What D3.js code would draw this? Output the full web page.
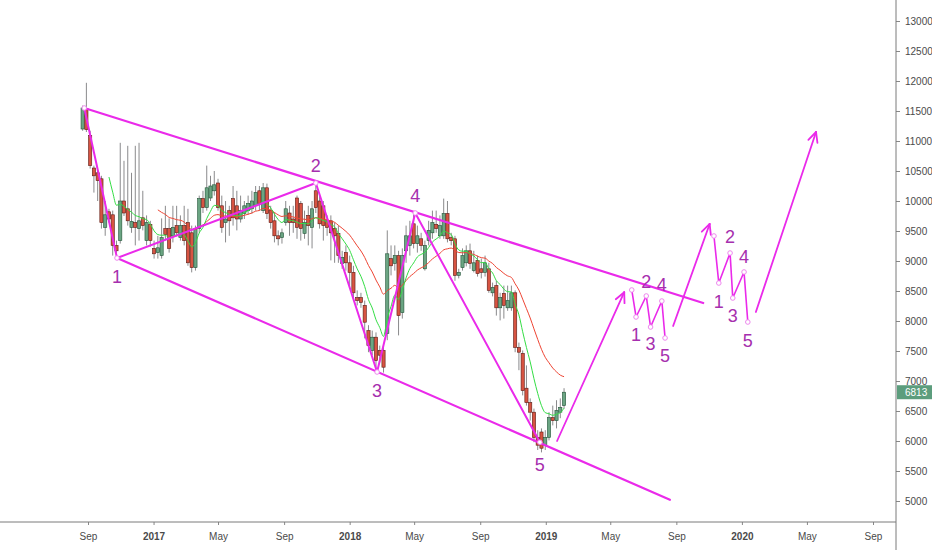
<!DOCTYPE html>
<html>
<head>
<meta charset="utf-8">
<script src="https://cdn.jsdelivr.net/npm/d3@7"></script>
<style>
  body { margin: 0; background: #fff; }
  svg { display: block; }
  text { font-family: "Liberation Sans", Arial, sans-serif; }
</style>
</head>
<body>
<svg id="chart" width="932" height="550"></svg>
<script>
// weekly candles, first week starts 2016-08-22
const firstWeek = new Date(2016, 7, 22);

const opens = [
  11200, 11540, 11090, 10550, 10470, 10370, 9560, 9820, 9770, 9260,
  9340, 10000, 9870, 9560, 9640, 9540, 9720, 9340, 9610, 9210,
  9140, 9090, 9540, 9540, 9420, 9590, 9390, 9590, 9640, 9470,
  8890, 9540, 10040, 9890, 10050, 10170, 10300, 9920, 9640, 9840,
  10040, 9920, 9700, 9790, 9840, 9870, 9920, 10170, 9840, 10220,
  9840, 9670, 9420, 9390, 9640, 9800, 9700, 10050, 9960, 9460,
  9760, 9560, 10170, 10000, 9920, 9670, 9670, 9540, 9460, 8960,
  9140, 8970, 8810, 8390, 8390, 8260, 7840, 7510, 7730, 7510,
  7510, 7790, 9040, 8960, 9090, 8140, 9170, 9260, 9620, 9290,
  9370, 8870, 9340, 9470, 9610, 9420, 9420, 9790, 9390, 9370,
  8760, 8890, 8970, 9170, 8840, 9010, 8870, 8810, 8870, 8470,
  8590, 8220, 8460, 8220, 8220, 8470, 7560, 7460, 6880, 6640,
  6480, 6060, 6150, 5930, 6060, 6390, 6340, 6480, 6590
];
const highs = [
  11590, 11970, 11170, 10590, 10500, 10420, 10000, 9870, 9840, 9340,
  10970, 10670, 10920, 10470, 10920, 10970, 10170, 9760, 9670, 9340,
  9420, 9710, 9920, 9710, 9920, 9920, 9760, 9920, 9870, 9590,
  9590, 10090, 10170, 10590, 10420, 10500, 10370, 10090, 10000, 9920,
  10250, 10170, 10090, 10000, 10090, 10170, 10250, 10250, 10300, 10290,
  9920, 9810, 9510, 9540, 10000, 9920, 9920, 10090, 10000, 9840,
  9920, 10000, 10290, 10090, 10000, 9760, 9760, 9640, 9590, 9170,
  9260, 9090, 8920, 8510, 8470, 8340, 7930, 7840, 7810, 7590,
  7590, 9510, 9260, 9260, 9170, 9210, 9590, 9670, 9810, 9590,
  9470, 9340, 9670, 9840, 9840, 9760, 10040, 10000, 9470, 9420,
  8870, 9210, 9260, 9290, 9170, 9090, 9040, 9090, 8970, 8640,
  8670, 8470, 8590, 8590, 8590, 8510, 7640, 7510, 7260, 6710,
  6540, 6180, 6210, 6180, 6480, 6590, 6680, 6710, 6880
];
const lows = [
  11170, 11150, 10540, 10140, 10000, 9540, 9420, 9640, 9090, 9040,
  9290, 9750, 9590, 9470, 9260, 9340, 9510, 9260, 9240, 9040,
  9040, 9040, 9340, 9140, 9310, 9410, 9340, 9260, 8920, 8810,
  8840, 9470, 9800, 9840, 10000, 10090, 9840, 9470, 9310, 9420,
  9590, 9510, 9640, 9700, 9770, 9790, 9840, 9840, 9800, 9700,
  9540, 9310, 9260, 9290, 9590, 9420, 9470, 9370, 9340, 9370,
  9260, 9210, 9800, 9540, 9340, 9420, 9010, 8970, 8970, 8870,
  8840, 8590, 8340, 8260, 8220, 7710, 7480, 7430, 7140, 7310,
  7140, 7680, 8760, 8840, 7760, 8040, 8970, 9090, 9210, 9140,
  9170, 8840, 9260, 9370, 9470, 9370, 9370, 9310, 9260, 8670,
  8710, 8840, 8910, 8870, 8810, 8740, 8710, 8740, 8470, 8410,
  8090, 8010, 8040, 8170, 8170, 7480, 7180, 6760, 6590, 6340,
  5980, 5850, 5810, 5850, 6010, 6260, 6210, 6380, 6540
];
const closes = [
  11550, 11190, 10590, 10420, 10340, 9640, 9770, 9700, 9260, 9170,
  10000, 9800, 9670, 9660, 9560, 9670, 9590, 9640, 9340, 9120,
  9220, 9390, 9440, 9210, 9560, 9470, 9590, 9340, 8970, 8890,
  9540, 10040, 9890, 10220, 10250, 10270, 9890, 9560, 9700, 9670,
  9720, 9700, 9840, 9920, 9960, 10000, 10140, 9960, 10220, 9790,
  9640, 9420, 9370, 9470, 9870, 9640, 9640, 9560, 9540, 9640,
  9590, 9870, 9890, 9620, 9590, 9560, 9470, 9420, 9090, 9060,
  8970, 8810, 8470, 8340, 8310, 7980, 7590, 7730, 7340, 7430,
  7230, 9120, 8920, 9090, 8090, 9090, 9420, 9420, 9290, 9420,
  9260, 9260, 9510, 9640, 9540, 9590, 9790, 9370, 9340, 8760,
  8810, 9090, 9170, 8960, 8970, 8790, 8810, 8970, 8510, 8560,
  8220, 8390, 8260, 8340, 8470, 7560, 7480, 6840, 6640, 6480,
  6060, 5930, 5880, 6060, 6390, 6340, 6510, 6560, 6813
];
const lastPrice = 6813;

// axis ticks
const yTicks = [5000, 5500, 6000, 6500, 7000, 7500, 8000, 8500, 9000, 9500,
                10000, 10500, 11000, 11500, 12000, 12500, 13000];
const xTickDates = [
  new Date(2016, 8, 1), new Date(2017, 0, 1), new Date(2017, 4, 1), new Date(2017, 8, 1),
  new Date(2018, 0, 1), new Date(2018, 4, 1), new Date(2018, 8, 1), new Date(2019, 0, 1),
  new Date(2019, 4, 1), new Date(2019, 8, 1), new Date(2020, 0, 1), new Date(2020, 4, 1),
  new Date(2020, 8, 1)
];

// elliott wave drawing
const waveDates = [new Date(2016, 7, 25), new Date(2016, 9, 25), new Date(2017, 9, 30),
                   new Date(2018, 1, 21), new Date(2018, 4, 3), new Date(2018, 11, 21)];
const waveValues = [11550, 9050, 10300, 7150, 9800, 5980];
const waveLabels = ["", "1", "2", "3", "4", "5"];

const upperChannelEnd = [new Date(2019, 9, 21), 8300];
const lowerChannelEnd = [new Date(2019, 7, 20), 5020];

const arrow1 = [[new Date(2019, 0, 22), 6000], [new Date(2019, 4, 27), 8480]];
const subWaveADates = [new Date(2019, 5, 10), new Date(2019, 5, 18), new Date(2019, 6, 7),
                       new Date(2019, 6, 15), new Date(2019, 7, 5), new Date(2019, 7, 11)];
const subWaveAValues = [8517, 8067, 8417, 7900, 8333, 7717];
const arrow2 = [[new Date(2019, 7, 26), 7917], [new Date(2019, 10, 2), 9617]];
const subWaveBDates = [new Date(2019, 10, 10), new Date(2019, 10, 19), new Date(2019, 11, 10),
                       new Date(2019, 11, 15), new Date(2020, 0, 5), new Date(2020, 0, 12)];
const subWaveBValues = [9417, 8633, 9133, 8383, 8817, 7983];
const arrow3 = [[new Date(2020, 0, 27), 8150], [new Date(2020, 4, 18), 11150]];

const svg = d3.select("#chart");
const width = +svg.attr("width");
const height = +svg.attr("height");
const plotRight = 896, plotBottom = 522;

const x = d3.scaleTime()
  .domain([new Date(2016, 8, 1), new Date(2020, 8, 1)])
  .range([88, 873]);
const y = d3.scaleLinear()
  .domain([5000, 13000])
  .range([501, 21]);

const candles = closes.map((c, i) => ({
  date: d3.timeDay.offset(firstWeek, 7 * i),
  o: opens[i], h: highs[i], l: lows[i], c: c
}));

function ema(vals, n) {
  const k = 2 / (n + 1);
  let prev = null;
  return vals.map((v, i) => {
    if (i < n - 1) return null;
    if (i === n - 1) prev = d3.mean(vals.slice(0, n));
    else prev = v * k + prev * (1 - k);
    return prev;
  });
}
const emaFast = ema(closes, 8);
const emaSlow = ema(closes, 21);

svg.append("defs").append("clipPath").attr("id", "plotClip")
  .append("rect").attr("x", 0).attr("y", 0).attr("width", plotRight).attr("height", plotBottom);

const plot = svg.append("g").attr("clip-path", "url(#plotClip)");

// candles
const cg = plot.append("g");
cg.selectAll("line.wick")
  .data(candles)
  .enter()
  .append("line")
  .attr("class", "wick")
  .attr("x1", d => x(d.date)).attr("x2", d => x(d.date))
  .attr("y1", d => y(d.h)).attr("y2", d => y(d.l))
  .attr("stroke", "#8a8a8c")
  .attr("stroke-width", 1);

cg.selectAll("rect")
  .data(candles)
  .enter()
  .append("rect")
  .attr("x", d => x(d.date) - 1.6)
  .attr("width", 3.2)
  .attr("y", d => y(Math.max(d.o, d.c)))
  .attr("height", d => Math.max(1, Math.abs(y(d.o) - y(d.c))))
  .attr("fill", d => d.c >= d.o ? "#6ba583" : "#d75442")
  .attr("stroke", d => d.c >= d.o ? "#225437" : "#5b1a13")
  .attr("stroke-width", 0.6);

// moving averages
const maLine = d3.line()
  .defined(d => d.v != null)
  .x(d => x(d.date))
  .y(d => y(d.v))
  .curve(d3.curveMonotoneX);

plot.append("path")
  .attr("d", maLine(candles.map((d, i) => ({ date: d.date, v: emaSlow[i] }))))
  .attr("fill", "none").attr("stroke", "#ee4433").attr("stroke-width", 1);
plot.append("path")
  .attr("d", maLine(candles.map((d, i) => ({ date: d.date, v: emaFast[i] }))))
  .attr("fill", "none").attr("stroke", "#33dd44").attr("stroke-width", 1);

// wave drawing
const magenta = "#ea2aea";
const labelColor = "#a62fae";
const ann = plot.append("g");
const pt = (d, v) => [x(d), y(v)];

function segment(a, b, w) {
  ann.append("line")
    .attr("x1", a[0]).attr("y1", a[1]).attr("x2", b[0]).attr("y2", b[1])
    .attr("stroke", magenta).attr("stroke-width", w).attr("stroke-linecap", "round");
}
function arrow(a, b) {
  const p0 = pt(a[0], a[1]), p1 = pt(b[0], b[1]);
  segment(p0, p1, 1.8);
  const ang = Math.atan2(p0[1] - p1[1], p0[0] - p1[0]);
  [-0.45, 0.45].forEach(da => {
    segment(p1, [p1[0] + 11 * Math.cos(ang + da), p1[1] + 11 * Math.sin(ang + da)], 1.8);
  });
}
function zigzag(dates, values, labels, w, offsets) {
  const pts = dates.map((d, i) => pt(d, values[i]));
  ann.append("path")
    .attr("d", d3.line()(pts))
    .attr("fill", "none").attr("stroke", magenta).attr("stroke-width", w)
    .attr("stroke-linejoin", "round");
  ann.selectAll(null).data(pts).enter().append("circle")
    .attr("cx", p => p[0]).attr("cy", p => p[1]).attr("r", 2.3)
    .attr("fill", "#fff").attr("stroke", "#ee88ee").attr("stroke-width", 1);
  ann.selectAll(null).data(pts).enter().append("text")
    .attr("x", p => p[0]).attr("y", (p, i) => p[1] + offsets[i])
    .attr("text-anchor", "middle").attr("dominant-baseline", "central")
    .attr("fill", labelColor).attr("font-size", 18)
    .text((p, i) => labels[i]);
}

// channel lines
segment(pt(waveDates[0], waveValues[0]), pt(upperChannelEnd[0], upperChannelEnd[1]), 2.2);
segment(pt(waveDates[1], waveValues[1]), pt(lowerChannelEnd[0], lowerChannelEnd[1]), 2.2);

zigzag(waveDates, waveValues, waveLabels, 2, [0, 19, -17, 19, -17, 23]);

arrow(arrow1[0], arrow1[1]);
zigzag(subWaveADates, subWaveAValues, waveLabels, 1.6, [0, 18, -14, 17, -16, 18]);
arrow(arrow2[0], arrow2[1]);
zigzag(subWaveBDates, subWaveBValues, waveLabels, 1.6, [0, 19, -16, 18, -15, 19]);
arrow(arrow3[0], arrow3[1]);

// right price axis
const yAxis = svg.append("g")
  .attr("transform", `translate(${plotRight},0)`)
  .call(d3.axisRight(y).tickValues(yTicks).tickSize(4).tickPadding(5).tickFormat(d3.format("d")));
yAxis.select(".domain").remove();
yAxis.selectAll("line").attr("stroke", "#888");
yAxis.selectAll("text").attr("fill", "#4a4a4a").attr("font-size", 10)
  .attr("font-family", "'Liberation Sans Narrow', 'Liberation Sans', Arial, sans-serif");

// bottom time axis
const fmtTick = d => d.getMonth() === 0 ? d3.timeFormat("%Y")(d) : d3.timeFormat("%b")(d);
const xAxis = svg.append("g")
  .attr("transform", `translate(0,${plotBottom})`)
  .call(d3.axisBottom(x).tickValues(xTickDates).tickSize(3).tickPadding(8).tickFormat(fmtTick));
xAxis.select(".domain").remove();
xAxis.selectAll("line").attr("stroke", "#888");
xAxis.selectAll("text").attr("fill", "#4a4a4a").attr("font-size", 10)
  .attr("font-family", "'Liberation Sans Narrow', 'Liberation Sans', Arial, sans-serif")
  .attr("font-weight", d => d.getMonth() === 0 ? "bold" : "normal");

// axis borders
svg.append("line").attr("x1", 0).attr("x2", plotRight).attr("y1", plotBottom).attr("y2", plotBottom)
  .attr("stroke", "#7a7a7a").attr("stroke-width", 1);
svg.append("line").attr("x1", plotRight).attr("x2", plotRight).attr("y1", 0).attr("y2", height)
  .attr("stroke", "#7a7a7a").attr("stroke-width", 1);

// last price tag
const tag = svg.append("g").attr("transform", `translate(${plotRight + 1},${y(lastPrice)})`);
tag.append("rect").attr("x", 0).attr("y", -7).attr("width", 35).attr("height", 14).attr("fill", "#5c9d7d");
tag.append("text").attr("x", 8).attr("y", 0).attr("dominant-baseline", "central")
  .attr("fill", "#fff").attr("font-size", 10)
  .attr("font-family", "'Liberation Sans Narrow', 'Liberation Sans', Arial, sans-serif")
  .text(lastPrice);
</script>
</body>
</html>
